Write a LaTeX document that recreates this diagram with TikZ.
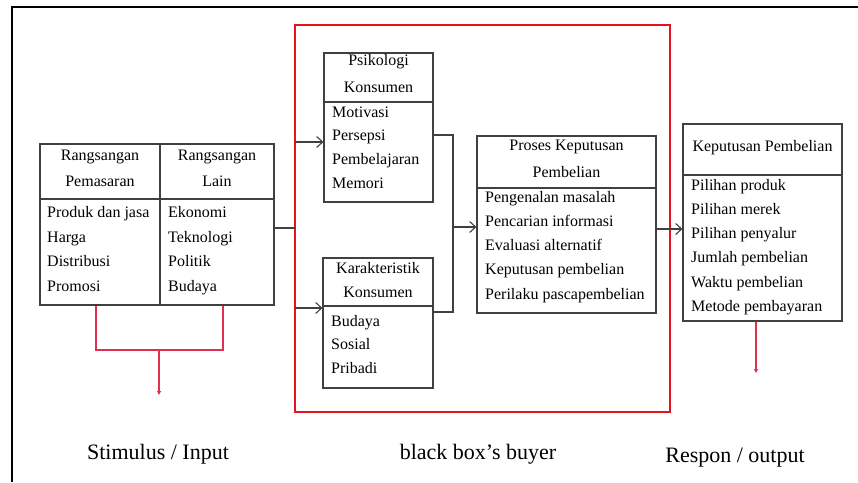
\documentclass[tikz,border=0pt]{standalone}
\usepackage{fontspec}
\setmainfont{Liberation Serif}
\usetikzlibrary{arrows.meta}

\definecolor{boxgray}{HTML}{404040}
\definecolor{boxred}{HTML}{E3141E}
\definecolor{linkred}{HTML}{E0304E}

\tikzset{
    cell/.style={draw=boxgray, line width=1.1pt, inner sep=0pt},
    item/.style={anchor=mid west, inner sep=0pt, font=\fontsize{16}{16}\selectfont},
    head/.style={inner sep=0pt, font=\fontsize{16}{16}\selectfont},
    capt/.style={inner sep=0pt, font=\fontsize{22}{22}\selectfont},
    link/.style={draw=boxgray, line width=1.1pt},
    linkarr/.style={link, -{Straight Barb[length=6pt,width=11pt]}},
    redlink/.style={draw=linkred, line width=1.2pt},
    redarr/.style={redlink, -{Triangle[length=4pt,width=4pt]}}
}

\begin{document}
\begin{tikzpicture}[x=1pt,y=-1pt]
    \useasboundingbox (0,0) rectangle (858,482);
    \draw[line width=2pt] (12,482) -- (12,7) -- (858,7);

    \node[cell, minimum width=120pt, minimum height=55pt] (stimLh) at (100,171.5) {};
    \node[cell, minimum width=114pt, minimum height=55pt] (stimRh) at (217,171.5) {};
    \node[cell, minimum width=120pt, minimum height=106pt] (stimLb) at (100,252) {};
    \node[cell, minimum width=114pt, minimum height=106pt] (stimRb) at (217,252) {};
    \node[head] (stimL1) at (100,157) {Rangsangan};
    \node[head] (stimL2) at (100,181) {Pemasaran};
    \node[head] (stimR1) at (217,157) {Rangsangan};
    \node[head] (stimR2) at (217,181) {Lain};
    \foreach \t [count=\i] in {Produk dan jasa, Harga, Distribusi, Promosi}
        \node[item] (stimLi\i) at (47,{215+24.7*(\i-1)}) {\t};
    \foreach \t [count=\i] in {Ekonomi, Teknologi, Politik, Budaya}
        \node[item] (stimRi\i) at (168,{215+24.7*(\i-1)}) {\t};

    \node[draw=boxred, line width=2.5pt, minimum width=375pt, minimum height=387pt] (bbox) at (482.5,218.5) {};

    \node[cell, minimum width=109pt, minimum height=49pt] (psiH) at (378.5,77.5) {};
    \node[cell, minimum width=109pt, minimum height=100pt] (psiB) at (378.5,152) {};
    \node[head] (psi1) at (378.5,62) {Psikologi};
    \node[head] (psi2) at (378.5,87) {Konsumen};
    \foreach \t [count=\i] in {Motivasi, Persepsi, Pembelajaran, Memori}
        \node[item] (psii\i) at (332,{115+23.7*(\i-1)}) {\t};

    \node[cell, minimum width=110pt, minimum height=48pt] (karH) at (378,282) {};
    \node[cell, minimum width=110pt, minimum height=82pt] (karB) at (378,347) {};
    \node[head] (kar1) at (378,268) {Karakteristik};
    \node[head] (kar2) at (378,292) {Konsumen};
    \foreach \t [count=\i] in {Budaya, Sosial, Pribadi}
        \node[item] (kari\i) at (331,{324+23.5*(\i-1)}) {\t};

    \node[cell, minimum width=179pt, minimum height=52pt] (proH) at (566.5,162) {};
    \node[cell, minimum width=179pt, minimum height=125pt] (proB) at (566.5,250.5) {};
    \node[head] (pro1) at (566.5,147) {Proses Keputusan};
    \node[head] (pro2) at (566.5,172) {Pembelian};
    \foreach \t [count=\i] in {Pengenalan masalah, Pencarian informasi, Evaluasi alternatif, Keputusan pembelian, Perilaku pascapembelian}
        \node[item] (proi\i) at (485,{200+24.2*(\i-1)}) {\t};

    \node[cell, minimum width=159pt, minimum height=51pt] (kepH) at (762.5,149.5) {};
    \node[cell, minimum width=159pt, minimum height=146pt] (kepB) at (762.5,248) {};
    \node[head] (kep1) at (762.5,148) {Keputusan Pembelian};
    \foreach \t [count=\i] in {Pilihan produk, Pilihan merek, Pilihan penyalur, Jumlah pembelian, Waktu pembelian, Metode pembayaran}
        \node[item] (kepi\i) at (691,{188+24.2*(\i-1)}) {\t};

    \coordinate (in) at (295,228);
    \coordinate (a1) at (295,142);
    \coordinate (a2) at (295,308);
    \coordinate (j1) at (453,135);
    \coordinate (j2) at (453,312);
    \coordinate (j3) at (453,227);
    \coordinate (k1) at (0,229);
    \draw[link] (stimRb.east |- in) -- (in);
    \draw[linkarr] (a1) -- (a1 -| psiB.west);
    \draw[linkarr] (a2) -- (a2 -| karB.west);
    \draw[link] (j1 -| psiB.east) -- (j1) -- (j2) -- (j2 -| karB.east);
    \draw[linkarr] (j3) -- (j3 -| proB.west);
    \draw[linkarr] (k1 -| proB.east) -- (k1 -| kepB.west);

    \coordinate (r1) at (96,350);
    \coordinate (r2) at (223,350);
    \coordinate (r3) at (159,350);
    \coordinate (r4) at (159,395);
    \coordinate (o1) at (756,373);
    \draw[redlink] (r1 |- stimLb.south) -- (r1) -- (r2) -- (r2 |- stimRb.south);
    \draw[redarr] (r3) -- (r4);
    \draw[redarr] (o1 |- kepB.south) -- (o1);

    \node[capt] (stim) at (158,454) {Stimulus / Input};
    \node[capt] (buyer) at (478,454) {black box's buyer};
    \node[capt] (resp) at (735,458) {Respon / output};
\end{tikzpicture}
\end{document}
